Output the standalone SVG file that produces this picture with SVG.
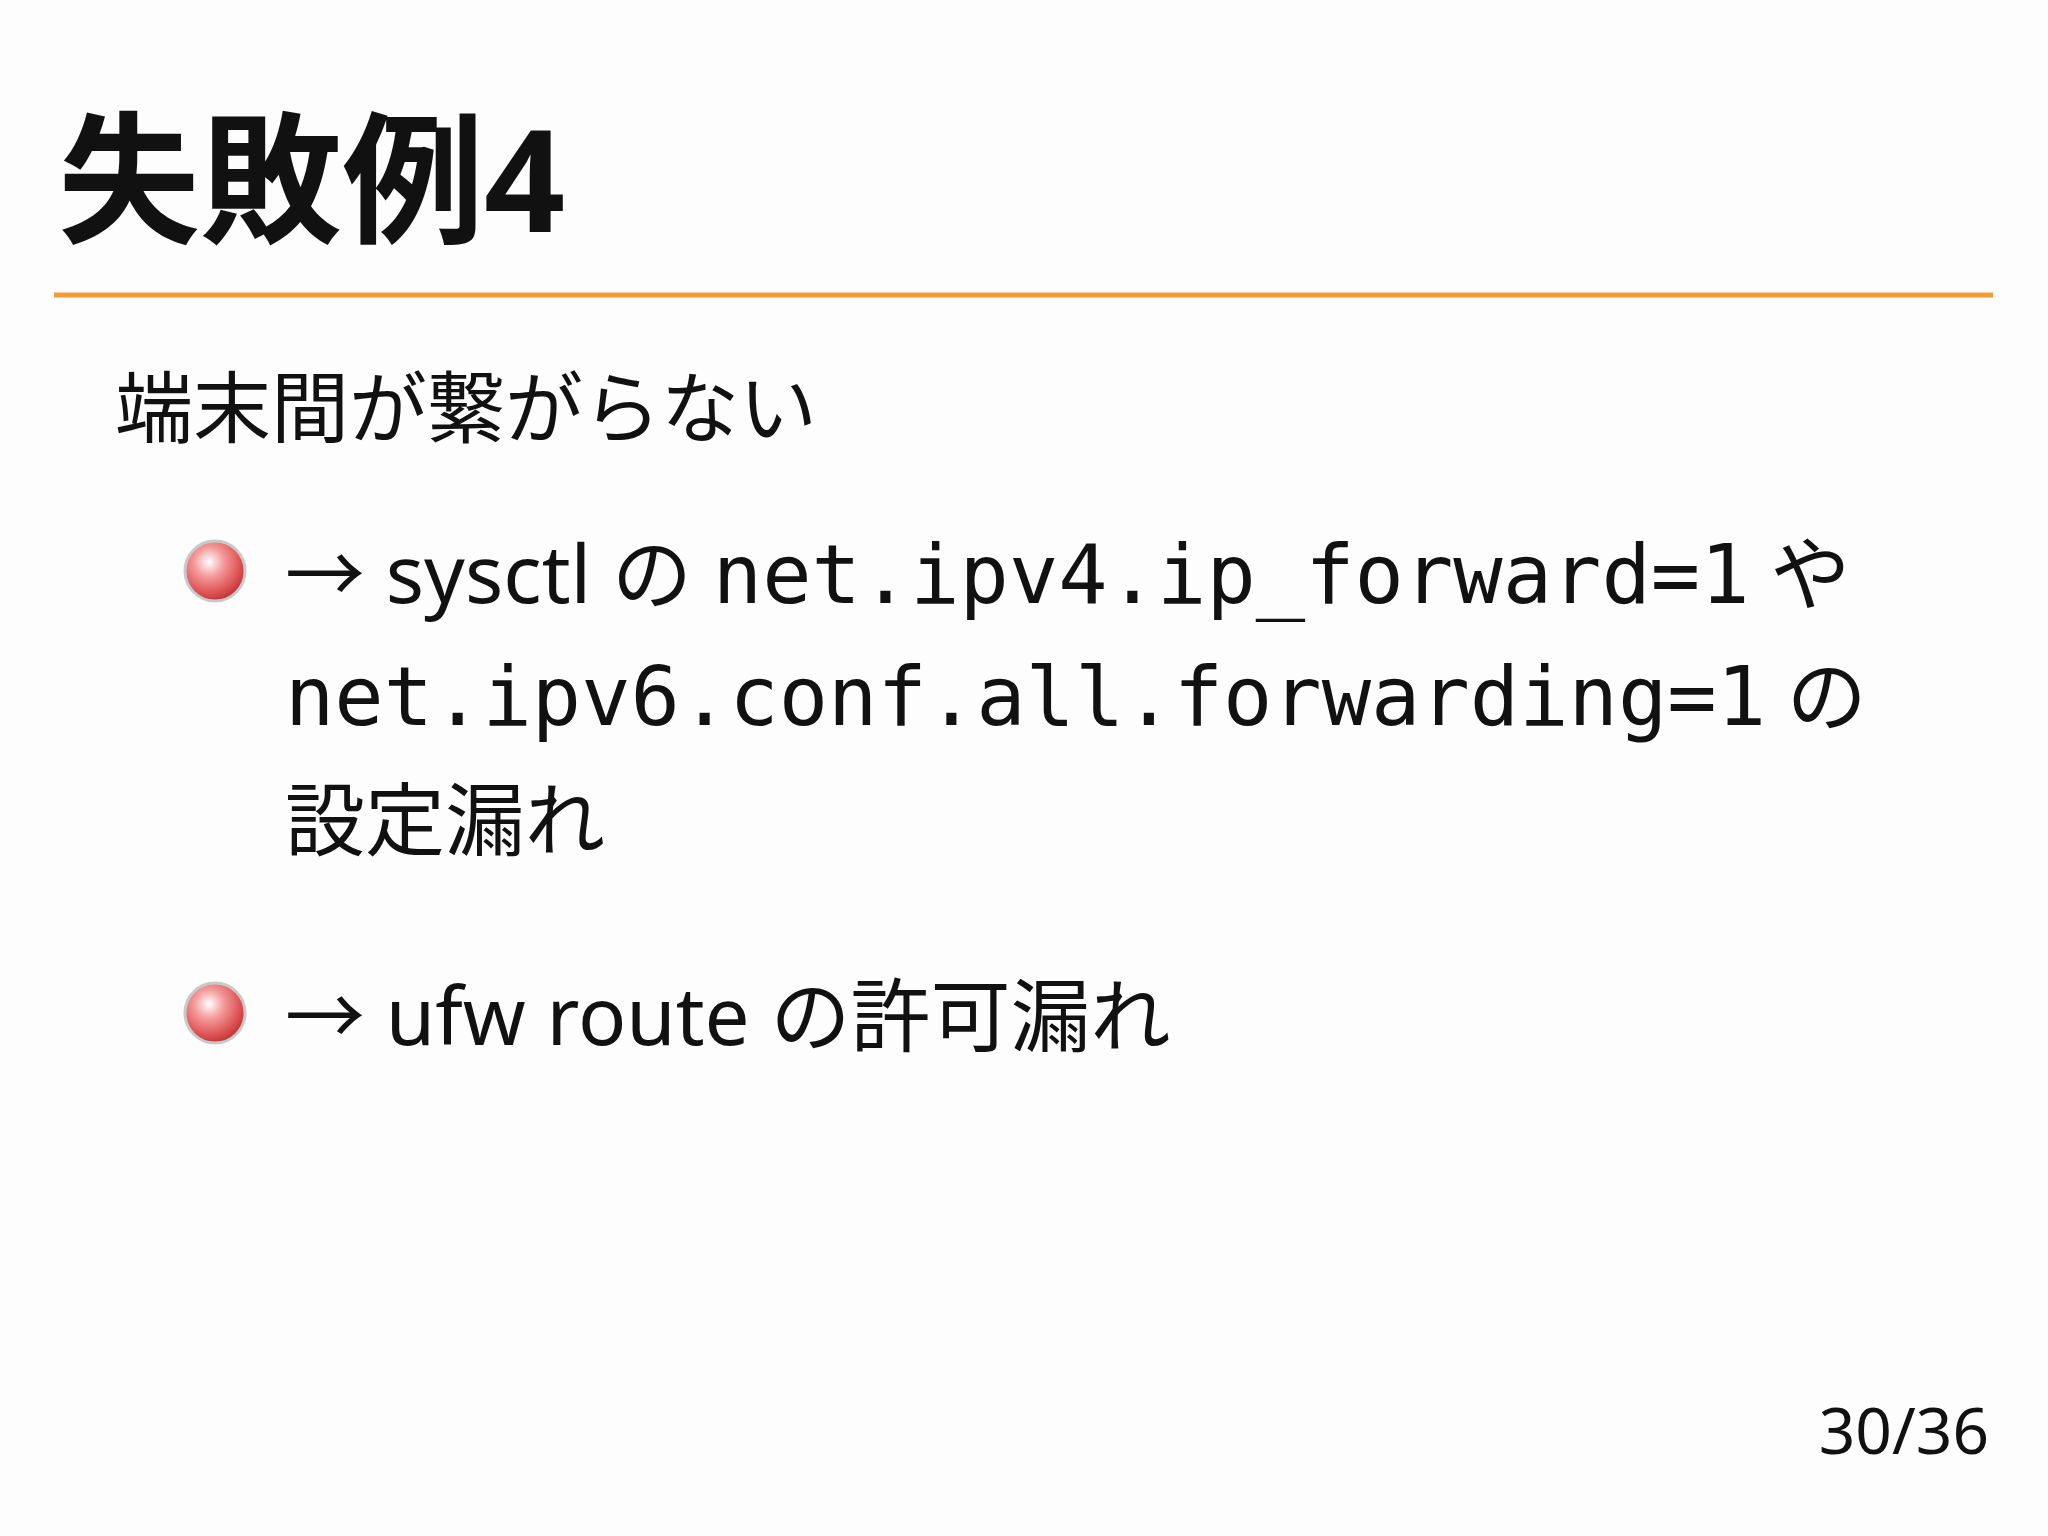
<svg xmlns="http://www.w3.org/2000/svg" width="2048" height="1536" viewBox="0 0 2048 1536">
<defs>
<radialGradient id="ball" cx="0.4" cy="0.35" r="0.7">
<stop offset="0" stop-color="#ffffff"/>
<stop offset="0.35" stop-color="#f59a9a"/>
<stop offset="0.8" stop-color="#d9484a"/>
<stop offset="1" stop-color="#b03030"/>
</radialGradient>
<style>
.s{font-family:"Noto Sans","Noto Sans CJK JP",sans-serif;fill:#111}
.m{font-family:"DejaVu Sans Mono",monospace}
</style>
</defs>
<rect width="2048" height="1536" fill="#fdfdfd"/>
<g id="title"><text class="s" x="58" y="232" font-size="142" font-weight="bold">失敗例4</text></g>
<line x1="54" y1="295" x2="1993" y2="295" stroke="#f39a3a" stroke-width="5"/>
<g id="subtitle"><text class="s" x="115" y="437" font-size="78">端末間が繋がらない</text></g>
<g id="bullet1">
<circle cx="215" cy="571" r="30" fill="url(#ball)" stroke="#c9c9c9" stroke-width="3"/>
<text class="s" x="285" y="603" font-size="80">→ sysctl の <tspan class="m" font-size="82">net.ipv4.ip_forward=1</tspan> や</text>
<text class="s" x="285" y="725" font-size="80"><tspan class="m" font-size="82">net.ipv6.conf.all.forwarding=1</tspan> の</text>
<text class="s" x="285" y="849" font-size="80">設定漏れ</text>
</g>
<g id="bullet2">
<circle cx="215" cy="1013" r="30" fill="url(#ball)" stroke="#c9c9c9" stroke-width="3"/>
<text class="s" x="285" y="1045" font-size="80">→ ufw route の許可漏れ</text>
</g>
<g id="page"><text class="s" x="1989" y="1454" font-size="64" text-anchor="end">30/36</text></g>
</svg>
